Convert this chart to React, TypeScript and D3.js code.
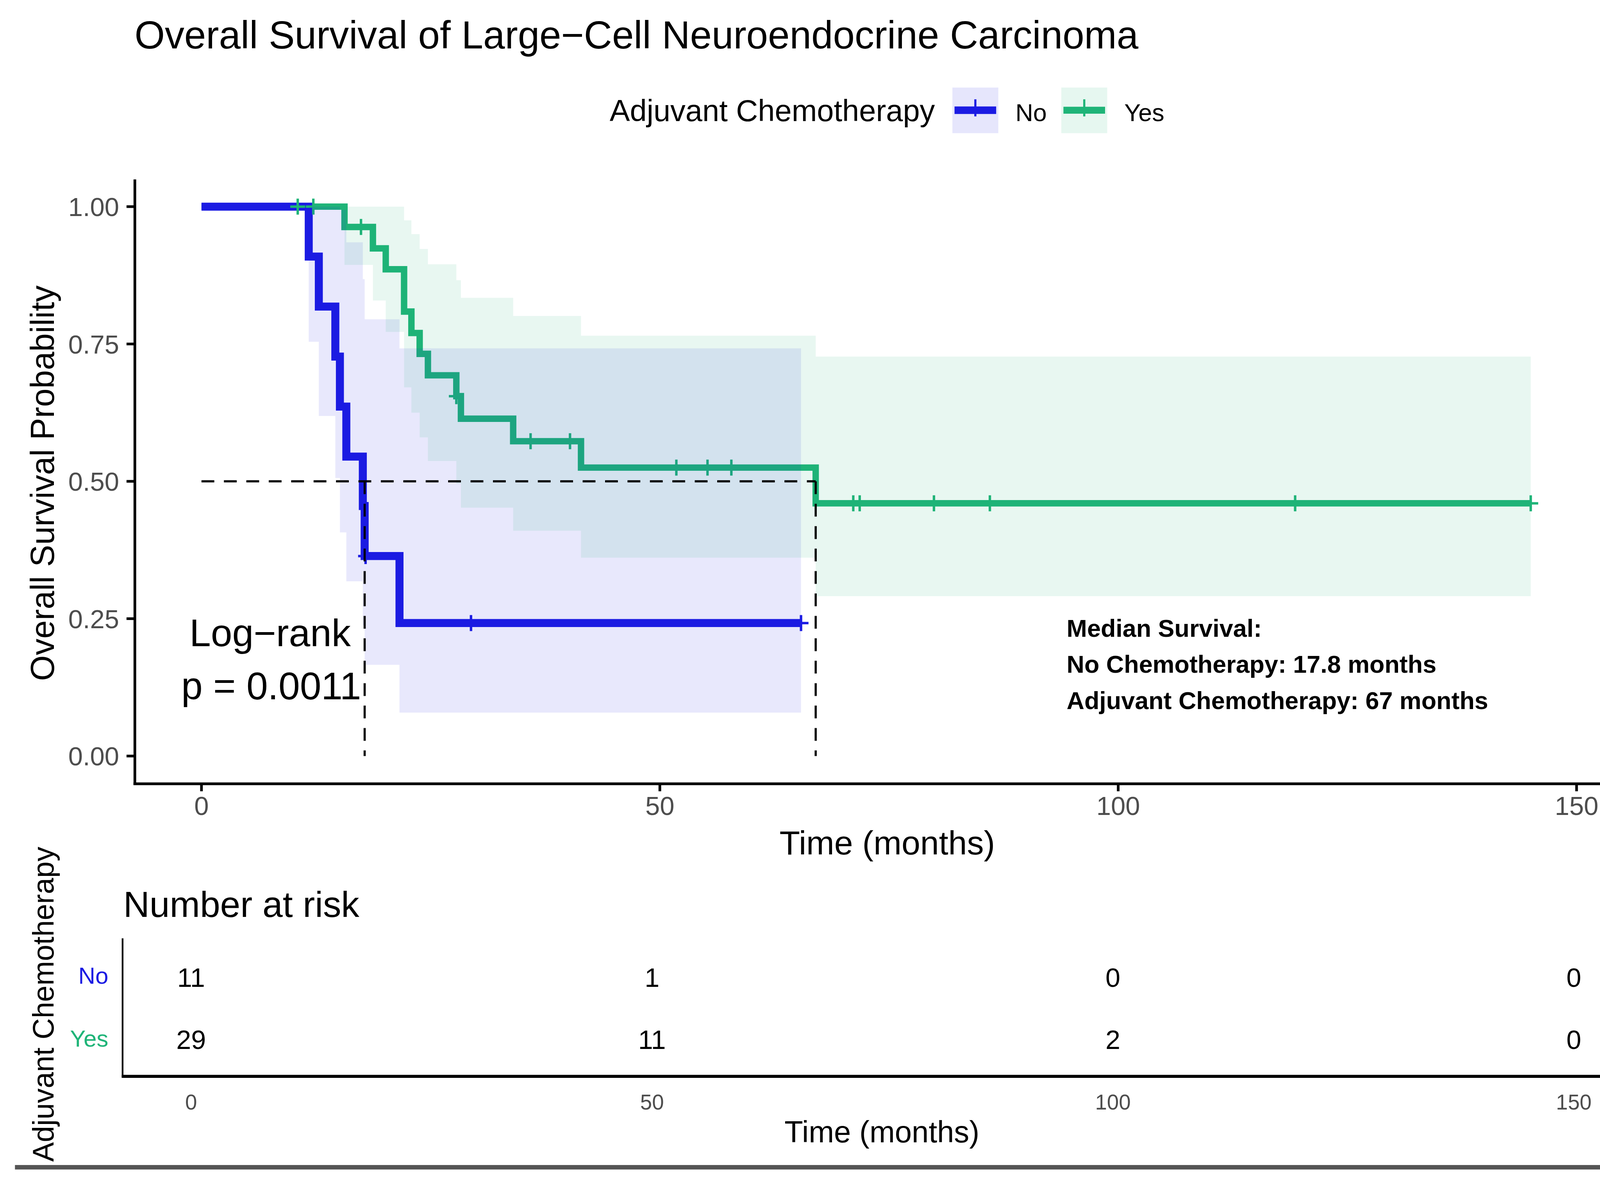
import React from 'react';
import * as d3 from 'd3';

// Kaplan-Meier steps (time in months)
const noTimes = [0, 11.7, 12.8, 14.6, 15.1, 15.8, 17.6, 17.8, 21.6, 65.4];
const noSurv = [1, 0.909, 0.818, 0.727, 0.636, 0.545, 0.455, 0.364, 0.242, 0.242];
const noLower = [1, 0.754, 0.619, 0.506, 0.407, 0.318, 0.238, 0.166, 0.079, 0.079];
const noUpper = [1, 1, 1, 1, 0.994, 0.935, 0.868, 0.795, 0.742, 0.742];
const noCensor = [17.9, 29.4, 65.4];

const yesTimes = [0, 15.6, 18.7, 20.1, 22.1, 22.9, 23.8, 24.7, 27.8, 28.3, 34.0, 41.4, 67, 145];
const yesSurv = [1, 0.963, 0.924, 0.886, 0.809, 0.770, 0.732, 0.693, 0.655, 0.614, 0.573, 0.525, 0.460, 0.460];
const yesLower = [1, 0.894, 0.829, 0.772, 0.671, 0.625, 0.580, 0.537, 0.496, 0.452, 0.410, 0.361, 0.291, 0.291];
const yesUpper = [1, 1, 1, 1, 0.975, 0.950, 0.923, 0.895, 0.866, 0.834, 0.801, 0.765, 0.727, 0.727];
const yesCensor = [10.5, 12.2, 17.4, 27.8, 35.9, 40.2, 51.8, 55.2, 57.8, 71.1, 71.8, 79.9, 86.0, 119.3, 145];

const medianNo = 17.8;
const medianYes = 67;

const xTicks = [0, 50, 100, 150];
const yTicks = [0, 0.25, 0.5, 0.75, 1];
const yTickLabels = ['0.00', '0.25', '0.50', '0.75', '1.00'];

const riskTimes = [0, 50, 100, 150];
const riskNo = [11, 1, 0, 0];
const riskYes = [29, 11, 2, 0];

const BLUE = '#1b1be3';
const GREEN = '#1fb478';
const FONT = '"Liberation Sans", Arial, sans-serif';

const W = 1560;
const H = 1114.4;

const x = d3.scaleLinear().domain([0, 150]).range([188.7, 1476.6]);
const y = d3.scaleLinear().domain([0, 1]).range([708, 193.5]);
const riskX = d3.scaleLinear().domain([0, 150]).range([179, 1474]);

type Pt = { t: number; s: number; lo: number; hi: number };

function zip(times: number[], s: number[], lo: number[], hi: number[]): Pt[] {
  return times.map((t, i) => ({ t, s: s[i], lo: lo[i], hi: hi[i] }));
}

const noData = zip(noTimes, noSurv, noLower, noUpper);
const yesData = zip(yesTimes, yesSurv, yesLower, yesUpper);

const line = d3.line<Pt>().x(d => x(d.t)).y(d => y(d.s)).curve(d3.curveStepAfter);
const area = d3.area<Pt>().x(d => x(d.t)).y0(d => y(d.lo)).y1(d => y(d.hi)).curve(d3.curveStepAfter);

function survAt(times: number[], surv: number[], t: number) {
  const i = d3.bisectRight(times, t) - 1;
  return surv[Math.max(0, i)];
}

function Censor({ cx, cy, color }: { cx: number; cy: number; color: string }) {
  return (
    <g stroke={color} strokeWidth={2.3}>
      <line x1={cx} x2={cx} y1={cy - 7.5} y2={cy + 7.5} />
      <line x1={cx - 7} x2={cx + 7} y1={cy} y2={cy} />
    </g>
  );
}

export default function App() {
  return (
    <svg
      width={4264}
      height={3046}
      viewBox={`0 0 ${W} ${H}`}
      style={{ position: 'absolute', left: 0, top: 0, background: '#fff' }}
      fontFamily={FONT}
    >
      <rect x={0} y={0} width={W} height={H} fill="#fff" />

      {/* title */}
      <text x={126} y={45.5} fontSize={36.5} fill="#000">Overall Survival of Large−Cell Neuroendocrine Carcinoma</text>

      {/* legend */}
      <text x={571} y={113.4} fontSize={28.4} fill="#000">Adjuvant Chemotherapy</text>
      <rect x={892} y={82} width={43} height={42.7} fill={BLUE} fillOpacity={0.11} />
      <line x1={894} x2={933} y1={103.2} y2={103.2} stroke={BLUE} strokeWidth={7} />
      <line x1={913.5} x2={913.5} y1={93} y2={109} stroke={BLUE} strokeWidth={2} />
      <text x={951} y={113.4} fontSize={23} fill="#000">No</text>
      <rect x={994} y={82} width={43} height={42.7} fill={GREEN} fillOpacity={0.11} />
      <line x1={996} x2={1035} y1={103.2} y2={103.2} stroke={GREEN} strokeWidth={6.5} />
      <line x1={1015.5} x2={1015.5} y1={93} y2={109} stroke={GREEN} strokeWidth={2} />
      <text x={1053} y={113.4} fontSize={23} fill="#000">Yes</text>

      {/* curves */}
      <path d={line(yesData) || ''} fill="none" stroke={GREEN} strokeWidth={6} />
      <path d={line(noData) || ''} fill="none" stroke={BLUE} strokeWidth={7.5} />
      {yesCensor.map((t, i) => (
        <Censor key={'yc' + i} cx={x(t)} cy={y(survAt(yesTimes, yesSurv, t))} color={GREEN} />
      ))}
      {noCensor.map((t, i) => (
        <Censor key={'nc' + i} cx={x(t)} cy={y(survAt(noTimes, noSurv, t))} color={BLUE} />
      ))}

      {/* confidence bands */}
      <path d={area(noData) || ''} fill={BLUE} fillOpacity={0.1} />
      <path d={area(yesData) || ''} fill={GREEN} fillOpacity={0.1} />

      {/* median lines */}
      <g stroke="#000" strokeWidth={2} strokeDasharray="12,9" fill="none">
        <line x1={x(0)} x2={x(medianYes)} y1={y(0.5)} y2={y(0.5)} />
        <line x1={x(medianNo)} x2={x(medianNo)} y1={y(0.5)} y2={y(0)} />
        <line x1={x(medianYes)} x2={x(medianYes)} y1={y(0.5)} y2={y(0)} />
      </g>

      {/* axes */}
      <line x1={126.3} x2={126.3} y1={168} y2={735} stroke="#000" strokeWidth={2.5} />
      <line x1={125} x2={1545} y1={734} y2={734} stroke="#000" strokeWidth={2.5} />
      {yTicks.map((v, i) => (
        <g key={'yt' + i}>
          <line x1={118.5} x2={126} y1={y(v)} y2={y(v)} stroke="#000" strokeWidth={2.5} />
          <text x={111.6} y={y(v) + 8.8} fontSize={24.5} textAnchor="end" fill="#4d4d4d">{yTickLabels[i]}</text>
        </g>
      ))}
      {xTicks.map((v, i) => (
        <g key={'xt' + i}>
          <line x1={x(v)} x2={x(v)} y1={734} y2={741} stroke="#000" strokeWidth={2.5} />
          <text x={x(v)} y={763} fontSize={24.5} textAnchor="middle" fill="#4d4d4d">{v}</text>
        </g>
      ))}
      <text x={831} y={800} fontSize={31.5} textAnchor="middle" fill="#000">Time (months)</text>
      <text transform="translate(50.6,452.5) rotate(-90)" fontSize={31} textAnchor="middle" fill="#000">Overall Survival Probability</text>

      {/* annotations */}
      <text x={253} y={605} fontSize={36} textAnchor="middle" fill="#000">Log−rank</text>
      <text x={254} y={655} fontSize={36} textAnchor="middle" fill="#000">p = 0.0011</text>
      <g fontSize={23} fontWeight="bold" fill="#000">
        <text x={999} y={596.4}>Median Survival:</text>
        <text x={999} y={630}>No Chemotherapy: 17.8 months</text>
        <text x={999} y={664}>Adjuvant Chemotherapy: 67 months</text>
      </g>

      {/* risk table */}
      <text x={115.5} y={858.6} fontSize={34} fill="#000">Number at risk</text>
      <line x1={114.8} x2={114.8} y1={878.7} y2={1009} stroke="#000" strokeWidth={1.6} />
      <line x1={114} x2={1538} y1={1008} y2={1008} stroke="#000" strokeWidth={2.8} />
      <text x={101.5} y={921.4} fontSize={22} textAnchor="end" fill={BLUE}>No</text>
      <text x={101.5} y={980} fontSize={22} textAnchor="end" fill={GREEN}>Yes</text>
      {riskTimes.map((t, i) => (
        <g key={'rk' + i} fontSize={25} textAnchor="middle" fill="#000">
          <text x={riskX(t)} y={924}>{riskNo[i]}</text>
          <text x={riskX(t)} y={982.4}>{riskYes[i]}</text>
          <text x={riskX(t)} y={1039} fontSize={20} fill="#4d4d4d">{t}</text>
        </g>
      ))}
      <text x={826} y={1069.6} fontSize={28.5} textAnchor="middle" fill="#000">Time (months)</text>
      <text transform="translate(50,793) rotate(-90)" fontSize={27.5} textAnchor="end" fill="#000">Adjuvant Chemotherapy</text>

      {/* bottom border strip */}
      <rect x={14} y={1091} width={1542} height={4.2} fill="#555" />
    </svg>
  );
}
